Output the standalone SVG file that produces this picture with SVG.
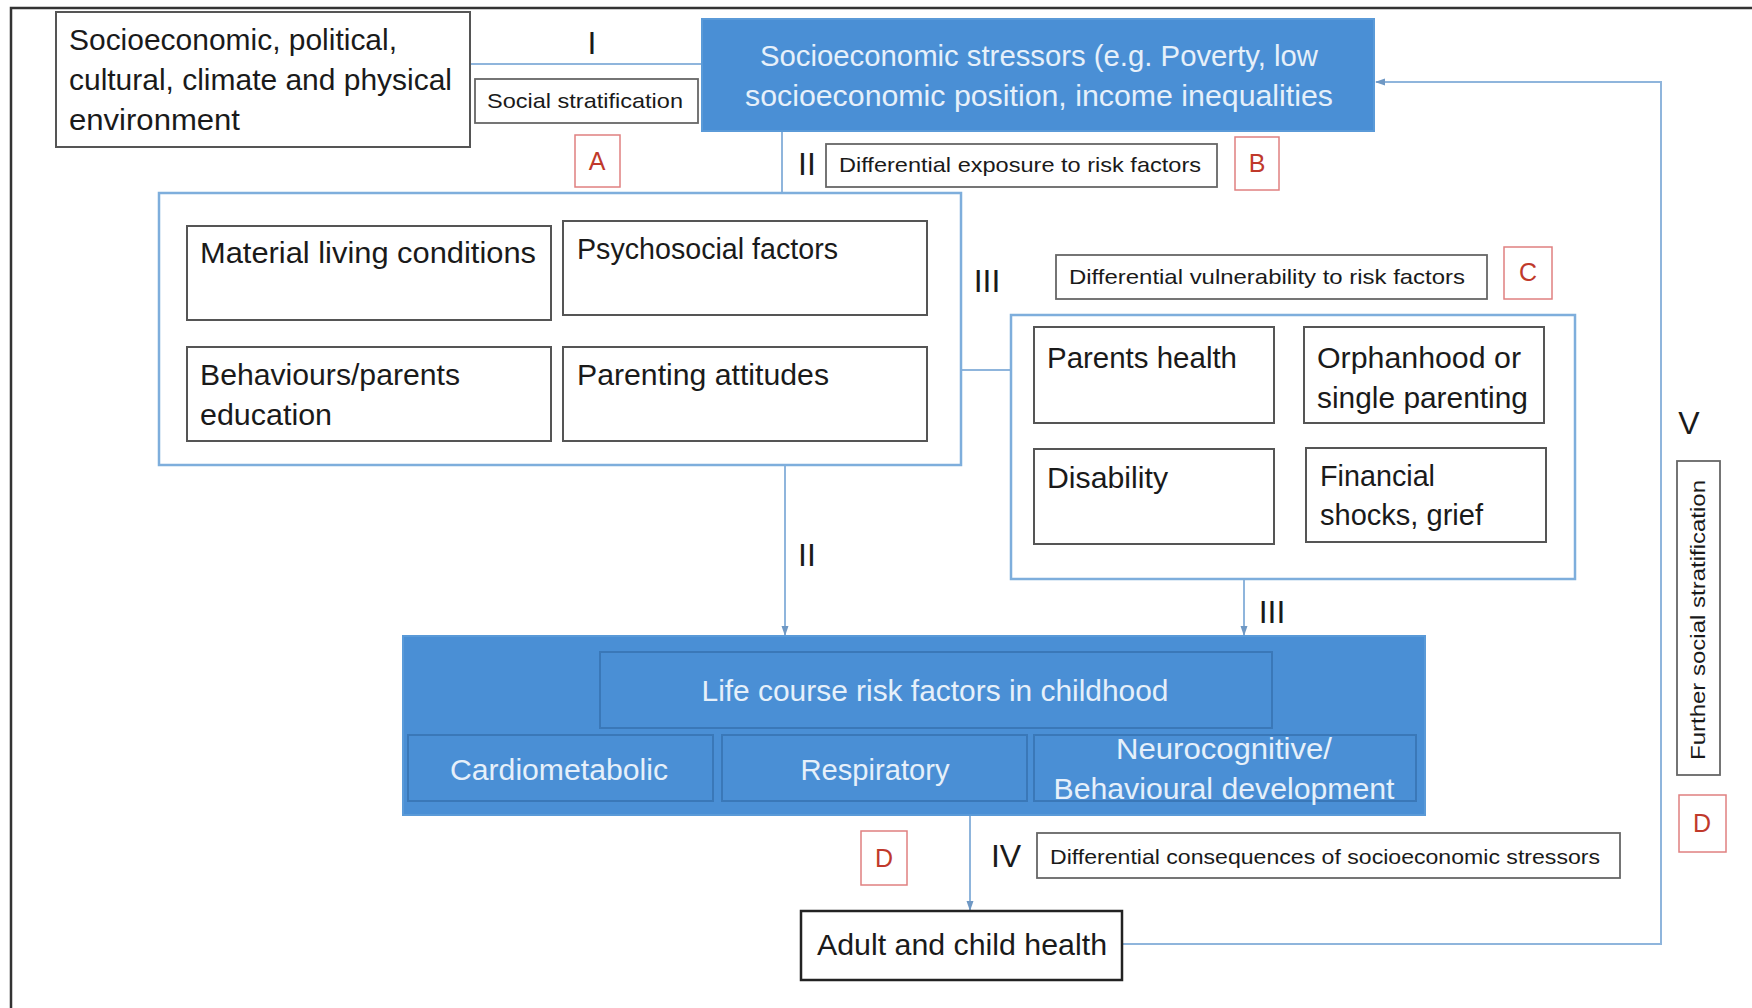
<svg xmlns="http://www.w3.org/2000/svg" width="1752" height="1008" viewBox="0 0 1752 1008">
<defs>
<style>
text{font-family:"Liberation Sans",Arial,sans-serif;fill:#1a1a1a}
.big{font-size:29px}
.lbl{font-size:21px}
.num{font-size:32px}
.ltr{font-size:25px;fill:#c0392b;text-anchor:middle}
.wt{font-size:29px;fill:#e6f0fa;text-anchor:middle}
.mid{text-anchor:middle}
.box{fill:#fff;stroke:#555;stroke-width:2}
.lbox{fill:#fff;stroke:#666;stroke-width:1.8}
.rbox{fill:#fff;stroke:#e08080;stroke-width:1.5}
.panel{fill:#fff;stroke:#7eaedc;stroke-width:2.5}
.blue{fill:#4a8fd5;stroke:#5a9ad8;stroke-width:2}
.iblue{fill:#4a8fd5;stroke:#3a78b8;stroke-width:2}
.con{fill:none;stroke:#8fb5dc;stroke-width:2}
</style>
<marker id="ah" markerWidth="10" markerHeight="10" refX="9" refY="5" orient="auto" markerUnits="userSpaceOnUse">
<path d="M0,1.5 L10,5 L0,8.5 Z" fill="#6f98c4"/>
</marker>
</defs>
<rect x="0" y="0" width="1752" height="1008" fill="#fff"/>
<path d="M11,1008 V8 H1752" fill="none" stroke="#333" stroke-width="2.5"/>

<g id="connectors">
<line class="con" x1="470" y1="64" x2="702" y2="64"/>
<line class="con" x1="782" y1="131" x2="782" y2="193"/>
<line class="con" x1="961" y1="370" x2="1011" y2="370"/>
<line class="con" x1="785" y1="465" x2="785" y2="635" marker-end="url(#ah)"/>
<line class="con" x1="1244" y1="579" x2="1244" y2="635" marker-end="url(#ah)"/>
<line class="con" x1="970" y1="815" x2="970" y2="910" marker-end="url(#ah)"/>
<polyline class="con" points="1122,944 1661,944 1661,82 1376,82" marker-end="url(#ah)"/>
</g>

<g id="environment">
<rect class="box" x="56" y="12" width="414" height="135"/>
<text class="big" x="69" y="50" textLength="328" lengthAdjust="spacingAndGlyphs">Socioeconomic, political,</text>
<text class="big" x="69" y="90" textLength="383" lengthAdjust="spacingAndGlyphs">cultural, climate and physical</text>
<text class="big" x="69" y="130" textLength="171" lengthAdjust="spacingAndGlyphs">environment</text>
</g>

<g id="label-I"><text class="num mid" x="592" y="54">I</text></g>
<g id="social-stratification">
<rect class="lbox" x="475" y="79" width="223" height="44"/>
<text class="lbl mid" x="585" y="108" textLength="196" lengthAdjust="spacingAndGlyphs">Social stratification</text>
</g>
<g id="letter-A"><rect class="rbox" x="575" y="135" width="45" height="52"/><text class="ltr" x="597" y="170">A</text></g>

<g id="stressors">
<rect class="blue" x="702" y="19" width="672" height="112"/>
<text class="wt" x="1039" y="66" textLength="558" lengthAdjust="spacingAndGlyphs">Socioeconomic stressors (e.g. Poverty, low</text>
<text class="wt" x="1039" y="106" textLength="588" lengthAdjust="spacingAndGlyphs">socioeconomic position, income inequalities</text>
</g>

<g id="label-II-top"><text class="num mid" x="807" y="175">II</text></g>
<g id="differential-exposure">
<rect class="lbox" x="826" y="144" width="391" height="43"/>
<text class="lbl mid" x="1020" y="172" textLength="362" lengthAdjust="spacingAndGlyphs">Differential  exposure to risk factors</text>
</g>
<g id="letter-B"><rect class="rbox" x="1235" y="137" width="44" height="53"/><text class="ltr" x="1257" y="172">B</text></g>

<g id="exposure-panel">
<rect class="panel" x="159" y="193" width="802" height="272"/>
<rect class="box" x="187" y="226" width="364" height="94"/>
<text class="big" x="200" y="263" textLength="336" lengthAdjust="spacingAndGlyphs">Material living conditions</text>
<rect class="box" x="563" y="221" width="364" height="94"/>
<text class="big" x="577" y="259" textLength="261" lengthAdjust="spacingAndGlyphs">Psychosocial factors</text>
<rect class="box" x="187" y="347" width="364" height="94"/>
<text class="big" x="200" y="385" textLength="260" lengthAdjust="spacingAndGlyphs">Behaviours/parents</text>
<text class="big" x="200" y="425" textLength="132" lengthAdjust="spacingAndGlyphs">education</text>
<rect class="box" x="563" y="347" width="364" height="94"/>
<text class="big" x="577" y="385" textLength="252" lengthAdjust="spacingAndGlyphs">Parenting attitudes</text>
</g>

<g id="label-III-top"><text class="num mid" x="987" y="292">III</text></g>
<g id="differential-vulnerability">
<rect class="lbox" x="1056" y="255" width="431" height="44"/>
<text class="lbl mid" x="1267" y="284" textLength="396" lengthAdjust="spacingAndGlyphs">Differential  vulnerability  to risk factors</text>
</g>
<g id="letter-C"><rect class="rbox" x="1504" y="247" width="48" height="52"/><text class="ltr" x="1528" y="281">C</text></g>

<g id="vulnerability-panel">
<rect class="panel" x="1011" y="315" width="564" height="264"/>
<rect class="box" x="1034" y="327" width="240" height="96"/>
<text class="big" x="1047" y="368" textLength="190" lengthAdjust="spacingAndGlyphs">Parents health</text>
<rect class="box" x="1304" y="327" width="240" height="96"/>
<text class="big" x="1317" y="368" textLength="204" lengthAdjust="spacingAndGlyphs">Orphanhood or</text>
<text class="big" x="1317" y="408" textLength="211" lengthAdjust="spacingAndGlyphs">single parenting</text>
<rect class="box" x="1034" y="449" width="240" height="95"/>
<text class="big" x="1047" y="488" textLength="121" lengthAdjust="spacingAndGlyphs">Disability</text>
<rect class="box" x="1306" y="448" width="240" height="94"/>
<text class="big" x="1320" y="486" textLength="115" lengthAdjust="spacingAndGlyphs">Financial</text>
<text class="big" x="1320" y="525" textLength="163" lengthAdjust="spacingAndGlyphs">shocks, grief</text>
</g>

<g id="label-II-mid"><text class="num mid" x="807" y="566">II</text></g>
<g id="label-III-mid"><text class="num mid" x="1272" y="623">III</text></g>

<g id="life-course">
<rect class="blue" x="403" y="636" width="1022" height="179"/>
<rect class="iblue" x="600" y="652" width="672" height="76"/>
<text class="wt" x="935" y="701" textLength="467" lengthAdjust="spacingAndGlyphs">Life course risk factors in childhood</text>
<rect class="iblue" x="408" y="735" width="305" height="66"/>
<text class="wt" x="559" y="780" textLength="218" lengthAdjust="spacingAndGlyphs">Cardiometabolic</text>
<rect class="iblue" x="722" y="735" width="305" height="66"/>
<text class="wt" x="875" y="780" textLength="149" lengthAdjust="spacingAndGlyphs">Respiratory</text>
<rect class="iblue" x="1034" y="735" width="382" height="66"/>
<text class="wt" x="1224" y="759" textLength="216" lengthAdjust="spacingAndGlyphs">Neurocognitive/</text>
<text class="wt" x="1224" y="799" textLength="341" lengthAdjust="spacingAndGlyphs">Behavioural development</text>
</g>

<g id="letter-D-left"><rect class="rbox" x="861" y="831" width="46" height="54"/><text class="ltr" x="884" y="867">D</text></g>
<g id="label-IV"><text class="num mid" x="1006" y="867">IV</text></g>
<g id="differential-consequences">
<rect class="lbox" x="1037" y="833" width="583" height="45"/>
<text class="lbl mid" x="1325" y="864" textLength="550" lengthAdjust="spacingAndGlyphs">Differential  consequences  of socioeconomic  stressors</text>
</g>

<g id="health">
<rect class="box" x="801" y="911" width="321" height="69" stroke="#222" style="stroke:#222;stroke-width:2.5"/>
<text class="big mid" x="962" y="955" textLength="290" lengthAdjust="spacingAndGlyphs">Adult and child health</text>
</g>

<g id="label-V"><text class="num mid" x="1689" y="434">V</text></g>
<g id="further-stratification">
<rect class="lbox" x="1677" y="461" width="43" height="314"/>
<text class="lbl mid" x="0" y="0" transform="translate(1705,620) rotate(-90)" textLength="280" lengthAdjust="spacingAndGlyphs">Further social stratification</text>
</g>
<g id="letter-D-right"><rect class="rbox" x="1679" y="795" width="47" height="57"/><text class="ltr" x="1702" y="832">D</text></g>
</svg>
